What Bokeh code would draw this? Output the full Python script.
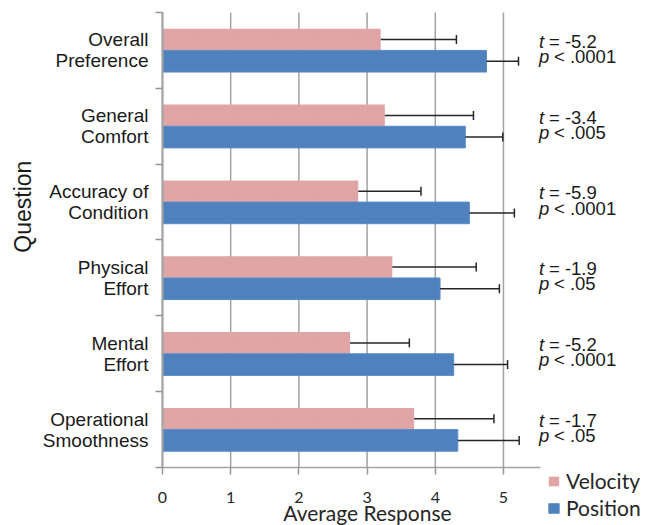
from bokeh.plotting import figure
from bokeh.models import (Range1d, FixedTicker, Whisker, TeeHead, ColumnDataSource,
                          LabelSet, Label, Legend, LegendItem)
from bokeh.core.properties import value
from bokeh.embed import file_html
from bokeh.resources import INLINE

# ---- data (top to bottom) ----
questions = ["Overall\nPreference", "General\nComfort", "Accuracy of\nCondition",
             "Physical\nEffort", "Mental\nEffort", "Operational\nSmoothness"]
velocity = [3.20, 3.26, 2.87, 3.37, 2.75, 3.69]
velocity_err = [1.11, 1.30, 0.92, 1.23, 0.87, 1.17]
position = [4.75, 4.44, 4.50, 4.07, 4.27, 4.33]
position_err = [0.47, 0.55, 0.66, 0.87, 0.79, 0.90]
t_stats = ["-5.2", "-3.4", "-5.9", "-1.9", "-5.2", "-1.7"]
p_stats = ["< .0001", "< .005", "< .0001", "< .05", "< .0001", "< .05"]
x_ticks = [0, 1, 2, 3, 4, 5]
series_names = ["Velocity", "Position"]

n = len(questions)
centers = [i + 0.5 for i in range(n)]
OFF = 0.143
BAR_H = 0.285
GRAY = "#A3A3A3"
TICK = "#959595"
X_AXIS_END = 5.547

src = ColumnDataSource(dict(
    center=centers,
    yv=[c - OFF for c in centers],
    yp=[c + OFF for c in centers],
    vel=velocity,
    vel_hi=[v + e for v, e in zip(velocity, velocity_err)],
    pos=position,
    pos_hi=[v + e for v, e in zip(position, position_err)],
    ty=[c - 0.035 for c in centers],
    py=[c + 0.165 for c in centers],
    tsym=["t"] * n,
    psym=["p"] * n,
    tval=["= " + t for t in t_stats],
    pval=p_stats,
))

grid_src = ColumnDataSource(dict(x=x_ticks, y0=[0] * len(x_ticks), y1=[n] * len(x_ticks)))

p = figure(width=655, height=525,
           x_range=Range1d(-2.375, 7.229), y_range=Range1d(6.765, -0.158),
           output_backend="svg", toolbar_location=None,
           min_border_left=0, min_border_right=0,
           min_border_top=0, min_border_bottom=0)
p.outline_line_color = None
p.background_fill_color = "white"
p.grid.visible = False

# vertical grid lines at the x ticks
p.segment(x0="x", x1="x", y0="y0", y1="y1", source=grid_src,
          line_color=GRAY, line_width=1.5, level="underlay")

rv = p.hbar(y="yv", left=0, right="vel", height=BAR_H, source=src,
            fill_color="#E1A7A6", line_color=None,
            hatch_pattern="dot", hatch_scale=2.5, hatch_color="#C98888",
            hatch_alpha=0.35, hatch_weight=0.8)
rp = p.hbar(y="yp", left=0, right="pos", height=BAR_H, source=src,
            fill_color="#4F81BD", line_color="#5A8ACB", line_width=1)

for base, lo, hi in (("yv", "vel", "vel_hi"), ("yp", "pos", "pos_hi")):
    w = Whisker(source=src, base=base, lower=lo, upper=hi, dimension="width",
                line_color="#262626", line_width=1.5, level="overlay",
                lower_head=None,
                upper_head=TeeHead(size=9, line_color="#262626", line_width=1.5))
    p.add_layout(w)

# x axis
xa = p.xaxis[0]
xa.fixed_location = n
xa.bounds = (0, X_AXIS_END)
xa.ticker = FixedTicker(ticks=x_ticks, minor_ticks=[])
xa.axis_line_color = GRAY
xa.axis_line_width = 1.5
xa.major_tick_line_color = TICK
xa.major_tick_line_width = 1.5
xa.major_tick_out = 7
xa.major_tick_in = 0
xa.minor_tick_line_color = None
xa.major_label_text_font = "Lato"
xa.major_label_text_font_size = "16px"
xa.major_label_text_color = "#262626"
xa.major_label_standoff = 18

# y axis (labels centred in each group, ticks on group boundaries)
ya = p.yaxis[0]
ya.fixed_location = 0
ya.bounds = (0, n)
ya.ticker = FixedTicker(ticks=centers, minor_ticks=list(range(n + 1)))
ya.major_label_overrides = {c: q for c, q in zip(centers, questions)}
ya.major_tick_line_color = None
ya.major_tick_out = 7
ya.major_tick_in = 0
ya.minor_tick_out = 7
ya.minor_tick_in = 0
ya.minor_tick_line_color = TICK
ya.minor_tick_line_width = 1.5
ya.axis_line_color = GRAY
ya.axis_line_width = 2
ya.major_label_standoff = 7
ya.major_label_text_font = "Liberation Sans"
ya.major_label_text_font_size = "19px"
ya.major_label_text_line_height = 1.0
ya.major_label_text_color = "#1a1a1a"

# statistics text
common = dict(source=src, x=5.52, text_font=value("Liberation Sans"), text_font_size=value("18.5px"),
              text_color="#1a1a1a", text_baseline="alphabetic", level="overlay")
p.add_layout(LabelSet(y="ty", text="tsym", text_font_style="italic", **common))
p.add_layout(LabelSet(y="ty", text="tval", x_offset=10, **common))
p.add_layout(LabelSet(y="py", text="psym", text_font_style="italic", **common))
p.add_layout(LabelSet(y="py", text="pval", x_offset=15, **common))

# axis titles
p.add_layout(Label(x=-2.04, y=2.56, text="Question", angle=90, angle_units="deg",
                   text_align="center", text_baseline="middle",
                   text_font="Liberation Sans", text_font_size="23px",
                   text_color="#1a1a1a"))
p.add_layout(Label(x=3.006, y=6.59, text="Average Response",
                   text_align="center", text_baseline="middle",
                   text_font="Lato", text_font_size="21px", text_color="#262626"))

legend = Legend(items=[LegendItem(label=series_names[0], renderers=[rv]),
                       LegendItem(label=series_names[1], renderers=[rp])],
                location=(547, 5), glyph_width=13, glyph_height=12,
                label_text_font="Lato", label_text_font_size="21px",
                label_text_color="#262626", label_standoff=6, label_height=22,
                padding=0, spacing=2, margin=0,
                border_line_color=None, background_fill_alpha=0)
p.add_layout(legend)

open("out.html", "w").write(file_html(p, INLINE))
